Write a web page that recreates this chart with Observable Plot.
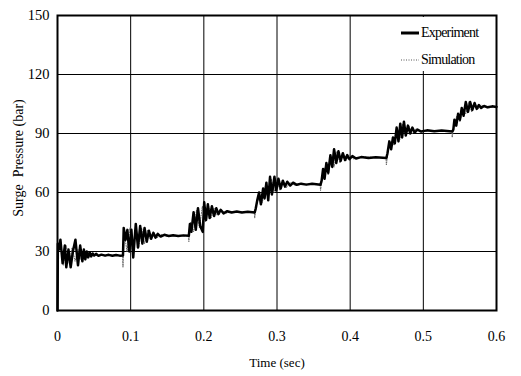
<!DOCTYPE html>
<html>
<head>
<meta charset="utf-8">
<script src="https://cdn.jsdelivr.net/npm/d3@7"></script>
<script src="https://cdn.jsdelivr.net/npm/@observablehq/plot@0.6"></script>
<style>
  html, body { margin: 0; padding: 0; background: #fff; }
  #wrap { position: relative; width: 521px; height: 376px; }
  #wrap svg text { font-family: "Liberation Serif", serif; }
  #legend { position: absolute; left: 392px; top: 17px; width: 102px; height: 54px; background: #fff;
            font-family: "Liberation Serif", serif; font-size: 14px; letter-spacing: -0.8px; color: #000; }
  .item { position: absolute; left: 9px; display: flex; align-items: center; line-height: 16px; }
  .item svg { display: block; margin-right: 2px; }
</style>
</head>
<body>
<div id="wrap"></div>
<script>
const xTicks = [0, 0.1, 0.2, 0.3, 0.4, 0.5, 0.6];
const yTicks = [0, 30, 60, 90, 120, 150];
const seriesNames = ["Experiment", "Simulation"];
const xLabel = "Time (sec)";
const yLabel = "Surge  Pressure (bar)";

const expTime = [
  0, 0.0005, 0.002, 0.004, 0.007, 0.010, 0.012, 0.015, 0.018, 0.021, 0.0245, 0.028, 0.031, 0.034, 0.036, 0.038, 0.040, 0.042, 0.044, 0.046, 0.048, 0.050, 0.053, 0.056, 0.060, 0.065, 0.070, 0.075, 0.080, 0.085, 0.0895,
  0.0905, 0.093, 0.0955, 0.098, 0.101, 0.1035, 0.107, 0.110, 0.113, 0.116, 0.119, 0.122, 0.125, 0.128, 0.131, 0.134, 0.137, 0.141, 0.146, 0.152, 0.158, 0.165, 0.172, 0.1795,
  0.181, 0.183, 0.186, 0.189, 0.192, 0.195, 0.1985, 0.2005, 0.203, 0.2055, 0.208, 0.211, 0.214, 0.217, 0.220, 0.223, 0.227, 0.232, 0.238, 0.245, 0.252, 0.260, 0.2695,
  0.271, 0.273, 0.2755, 0.278, 0.281, 0.283, 0.2855, 0.288, 0.2905, 0.293, 0.2965, 0.299, 0.302, 0.305, 0.308, 0.311, 0.314, 0.318, 0.322, 0.327, 0.333, 0.340, 0.348, 0.3595,
  0.361, 0.363, 0.365, 0.3675, 0.370, 0.373, 0.3755, 0.378, 0.381, 0.384, 0.387, 0.390, 0.393, 0.396, 0.399, 0.403, 0.408, 0.415, 0.425, 0.435, 0.4495,
  0.451, 0.4535, 0.456, 0.4585, 0.461, 0.4635, 0.466, 0.4685, 0.471, 0.4735, 0.476, 0.479, 0.482, 0.485, 0.488, 0.492, 0.497, 0.505, 0.515, 0.525, 0.5395,
  0.541, 0.5425, 0.545, 0.5475, 0.550, 0.5525, 0.555, 0.558, 0.561, 0.564, 0.567, 0.570, 0.573, 0.576, 0.579, 0.583, 0.588, 0.594, 0.600
];
const expPressure = [
  0, 34, 31, 36, 24, 33, 22, 31, 22, 30, 36, 23, 33, 25, 31, 26, 30, 27, 29.5, 27.5, 29, 28, 28.8, 27.8, 28.4, 27.9, 28.3, 27.8, 28.2, 27.9, 28,
  42, 36, 41, 30, 41, 27, 44, 32, 43, 34, 42, 35, 40.5, 36.5, 39.5, 37, 39, 37.6, 38.5, 37.9, 38.3, 37.9, 38.2, 38,
  44, 40, 50, 41, 52, 43, 40, 55, 46, 54, 47, 53, 48, 52, 49, 51.2, 49.4, 50.5, 49.8, 50.3, 49.8, 50.2, 49.8,
  52, 56, 60, 54, 62, 57, 65, 56, 68, 59, 68, 61, 67, 62, 66, 63, 65.5, 63.5, 65, 63.9, 64.5, 64, 64.4, 64,
  66, 72, 67, 75, 70, 79, 73, 82, 75, 81, 76, 80, 76.5, 79, 77, 78.5, 77.3, 78, 77.6, 77.9, 77.5,
  80, 86, 82, 88, 85, 93, 86, 95, 88, 96, 89, 94, 90, 93, 90.5, 92, 91, 91.6, 91.2, 91.5, 91,
  92, 97, 94, 100, 97, 103, 99, 106, 101, 106, 102, 105.5, 102.5, 104.5, 103, 104, 103.3, 103.8, 103.5
];

const simTime = [
  0, 0.001, 0.004, 0.008, 0.012, 0.016, 0.020, 0.024, 0.028, 0.032, 0.036, 0.040, 0.045, 0.050, 0.060, 0.089,
  0.0895, 0.091, 0.095, 0.099, 0.103, 0.107, 0.111, 0.115, 0.119, 0.123, 0.127, 0.131, 0.136, 0.142, 0.150, 0.179,
  0.1795, 0.182, 0.186, 0.190, 0.194, 0.198, 0.202, 0.206, 0.210, 0.214, 0.218, 0.223, 0.230, 0.240, 0.269,
  0.2695, 0.272, 0.276, 0.280, 0.284, 0.288, 0.292, 0.296, 0.300, 0.304, 0.308, 0.313, 0.318, 0.325, 0.335, 0.359,
  0.3595, 0.362, 0.366, 0.370, 0.374, 0.378, 0.382, 0.386, 0.390, 0.394, 0.399, 0.405, 0.415, 0.449,
  0.4495, 0.452, 0.456, 0.460, 0.464, 0.468, 0.472, 0.476, 0.480, 0.485, 0.490, 0.497, 0.510, 0.539,
  0.5395, 0.542, 0.546, 0.550, 0.554, 0.558, 0.562, 0.566, 0.570, 0.575, 0.580, 0.587, 0.600
];
const simPressure = [
  0, 30, 35, 23, 33, 24, 32, 25, 31, 26, 30, 27, 29, 27.8, 28.2, 28,
  22, 40, 30, 42, 28, 43, 32, 42, 34, 41, 36, 40, 37, 38.6, 37.8, 38,
  35, 45, 40, 51, 42, 53, 45, 54, 47, 52, 48.5, 51, 49.5, 50.3, 50,
  47, 54, 58, 55, 63, 57, 67, 60, 67, 61, 66, 62.5, 65, 63.6, 64.3, 64,
  61, 68, 73, 69, 78, 73, 81, 75, 80, 76, 79, 77, 78.2, 77.6,
  74, 82, 86, 84, 92, 87, 95, 89, 94, 90, 92.5, 90.8, 91.5, 91,
  88, 95, 99, 96, 102, 100, 106, 101, 105, 102.5, 104.3, 103, 103.6
];

const expData = expTime.map((t, i) => ({t, p: expPressure[i]}));
const simData = simTime.map((t, i) => ({t, p: simPressure[i]}));

const chart = Plot.plot({
  width: 521,
  height: 376,
  marginLeft: 57,
  marginRight: 25,
  marginTop: 15,
  marginBottom: 66,
  style: {fontFamily: "'Liberation Serif', serif", fontSize: "14px", background: "#fff", color: "#000"},
  x: {domain: [0, 0.6]},
  y: {domain: [0, 150]},
  marks: [
    Plot.gridX(xTicks, {stroke: "#000", strokeOpacity: 1, strokeWidth: 1}),
    Plot.gridY(yTicks, {stroke: "#000", strokeOpacity: 1, strokeWidth: 1}),
    Plot.axisX(xTicks, {tickSize: 0, tickPadding: 21, tickFormat: d3.format("~g"), label: null, fontSize: 14}),
    Plot.axisY(yTicks, {tickSize: 0, tickPadding: 8, label: null, fontSize: 14.5}),
    Plot.line(simData, {x: "t", y: "p", stroke: "#666", strokeWidth: 1, strokeDasharray: "1,1.5"}),
    Plot.line(expData, {x: "t", y: "p", stroke: "#000", strokeWidth: 2.5, strokeLinejoin: "round"}),
    Plot.frame({stroke: "#000", strokeWidth: 2}),
    Plot.text([xLabel], {frameAnchor: "bottom", dy: 52, fontSize: 13, textAnchor: "middle", lineAnchor: "middle", style: "letter-spacing:-1.1px"}),
    Plot.text([yLabel], {frameAnchor: "left", dx: -39, dy: -5, rotate: -90, fontSize: 14, textAnchor: "middle", lineAnchor: "middle", style: "letter-spacing:0.9px"})
  ]
});

const wrap = document.getElementById("wrap");
wrap.appendChild(chart);

const legend = document.createElement("div");
legend.id = "legend";
legend.innerHTML = `
  <div class="item" style="top:8px"><svg width="18" height="6"><line x1="0" y1="3" x2="18" y2="3" stroke="#000" stroke-width="3"/></svg><span>${seriesNames[0]}</span></div>
  <div class="item" style="top:35px"><svg width="18" height="6"><line x1="0" y1="3" x2="18" y2="3" stroke="#555" stroke-width="1" stroke-dasharray="1,1.5"/></svg><span>${seriesNames[1]}</span></div>`;
wrap.appendChild(legend);
</script>
</body>
</html>
